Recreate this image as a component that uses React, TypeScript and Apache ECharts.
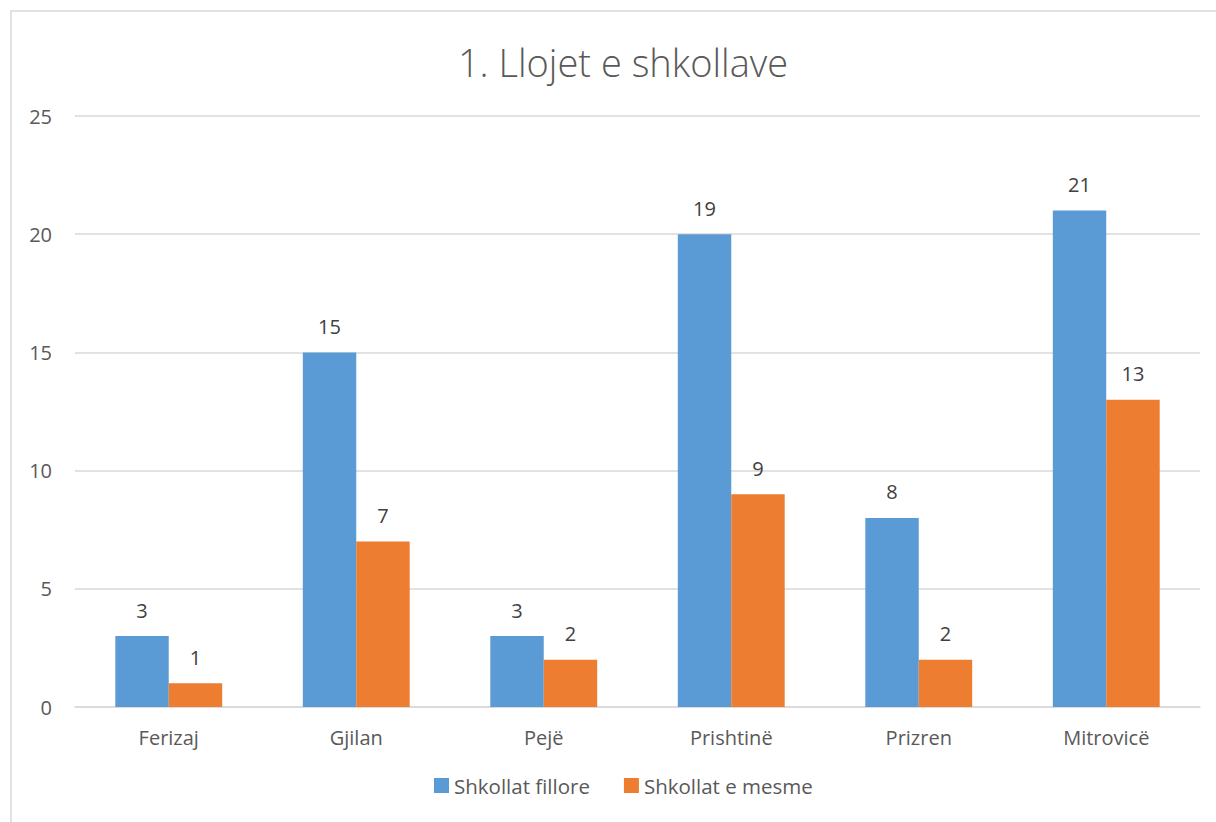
import React, { useEffect, useRef } from "react";
import * as echarts from "echarts";

const title = "1. Llojet e shkollave";
const categories = ["Ferizaj", "Gjilan", "Pejë", "Prishtinë", "Prizren", "Mitrovicë"];
const seriesNames = ["Shkollat fillore", "Shkollat e mesme"];
const fillore = [3, 15, 3, 20, 8, 21];
const filloreLabels = ["3", "15", "3", "19", "8", "21"];
const mesme = [1, 7, 2, 9, 2, 13];
const mesmeLabels = ["1", "7", "2", "9", "2", "13"];
const yTicks = { min: 0, max: 25, interval: 5 };

const FONT = "'Open Sans', 'Noto Sans', sans-serif";
const TXT = "#595959";

export default function App() {
  const ref = useRef<HTMLDivElement>(null);
  useEffect(() => {
    if (!ref.current) return;
    const chart = echarts.init(ref.current, undefined, { renderer: "svg" });
    chart.setOption({
      animation: false,
      backgroundColor: "#ffffff",
      textStyle: { fontFamily: FONT },
      graphic: [
        {
          type: "rect",
          shape: { x: 11, y: 11, width: 1300, height: 900 },
          style: { fill: "none", stroke: "#d9d9d9", lineWidth: 1.5 },
          silent: true,
          z: -1,
        },
      ],
      title: {
        text: title,
        left: 618,
        textAlign: "center",
        top: 38,
        textStyle: { fontFamily: FONT, fontSize: 38, fontWeight: 300, color: TXT },
      },
      legend: {
        data: seriesNames,
        bottom: 21,
        left: 429,
        itemWidth: 15,
        itemHeight: 15,
        itemGap: 34,
        icon: "rect",
        textStyle: { fontFamily: FONT, fontSize: 20.5, color: TXT },
      },
      grid: { left: 75, right: 16, top: 116, bottom: 115, containLabel: false },
      xAxis: {
        type: "category",
        data: categories,
        axisLine: { lineStyle: { color: "#d9d9d9", width: 1.5 } },
        axisTick: { show: false },
        axisLabel: { color: TXT, fontSize: 20, fontFamily: FONT, margin: 20 },
      },
      yAxis: {
        type: "value",
        min: yTicks.min,
        max: yTicks.max,
        interval: yTicks.interval,
        axisLine: { show: false },
        axisTick: { show: false },
        axisLabel: { color: TXT, fontSize: 20, fontFamily: FONT, margin: 23 },
        splitLine: { lineStyle: { color: "#d9d9d9", width: 1.5 } },
      },
      series: [
        {
          name: seriesNames[0],
          type: "bar",
          data: fillore,
          barGap: "0%",
          barCategoryGap: "43%",
          itemStyle: { color: "#5b9bd5" },
          label: {
            show: true,
            position: "top",
            distance: 16,
            color: "#404040",
            fontSize: 20,
            fontFamily: FONT,
            formatter: (p: any) => filloreLabels[p.dataIndex],
          },
        },
        {
          name: seriesNames[1],
          type: "bar",
          data: mesme,
          itemStyle: { color: "#ed7d31" },
          label: {
            show: true,
            position: "top",
            distance: 16,
            color: "#404040",
            fontSize: 20,
            fontFamily: FONT,
            formatter: (p: any) => mesmeLabels[p.dataIndex],
          },
        },
      ],
    });
    return () => chart.dispose();
  }, []);
  return (
    <div
      ref={ref}
      style={{ position: "fixed", left: 0, top: 0, width: 1216, height: 822 }}
    />
  );
}
